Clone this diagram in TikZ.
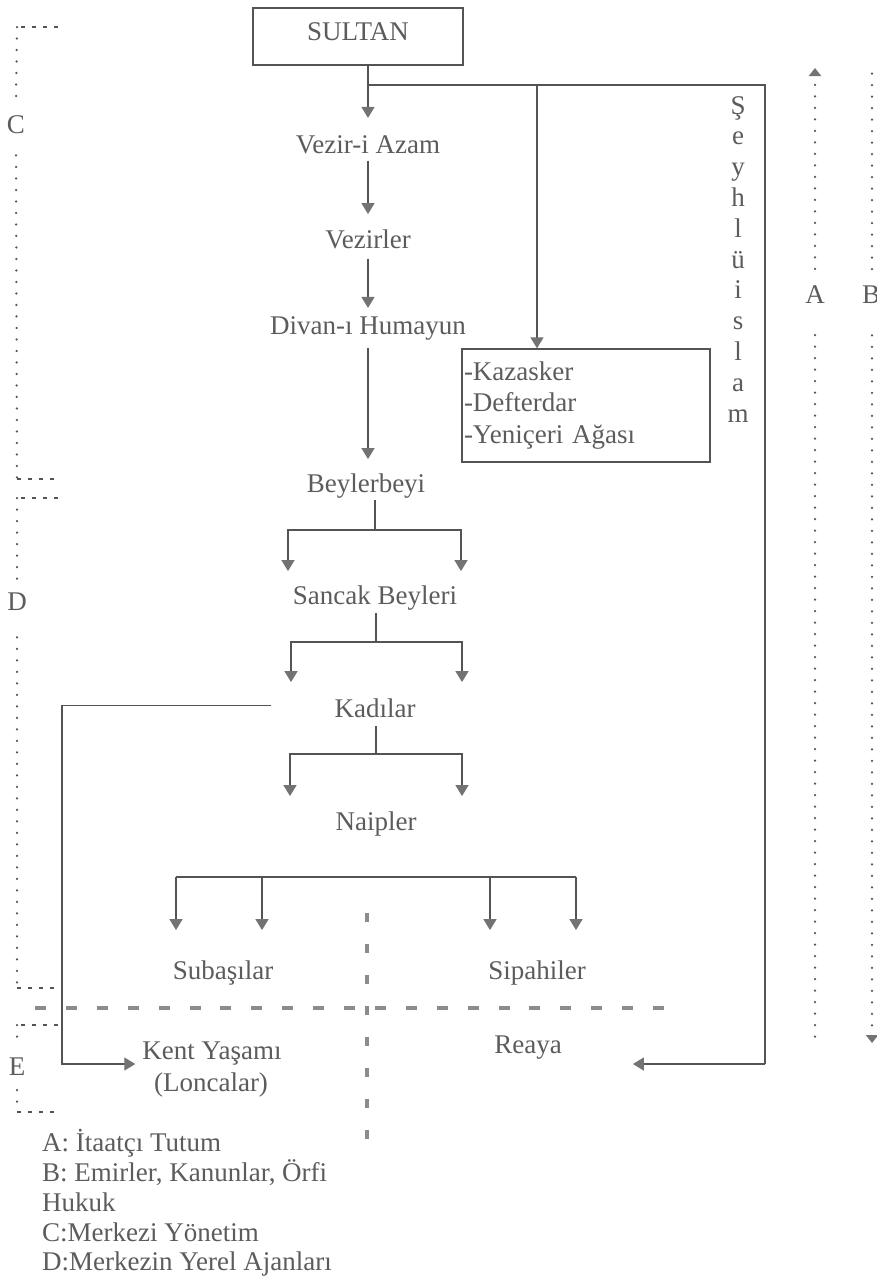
\documentclass[tikz,border=0pt]{standalone}
\usepackage{fontspec}
\setmainfont{Liberation Serif}
\usetikzlibrary{arrows.meta}
\definecolor{txt}{gray}{0.36}
\definecolor{ln}{gray}{0.33}
\definecolor{tipc}{gray}{0.45}
\definecolor{dsh}{gray}{0.55}
\newcommand{\chartfont}{\fontsize{27}{31.5}\selectfont}

\begin{document}
\begin{tikzpicture}[x=1pt,y=-1pt,
  lbl/.style={font=\chartfont, text=txt, inner sep=0pt, anchor=base},
  link/.style={draw=ln, line width=1.4pt},
  arr/.style={link, -{Triangle[width=13pt,length=11pt,color=tipc]}},
  boxed/.style={draw=ln, line width=1.3pt, font=\chartfont, text=txt},
  dotv/.style={draw=ln, line width=2.5pt, line cap=round, dash pattern=on 0pt off 11.5pt},
  doth/.style={draw=ln, line width=1.6pt, dash pattern=on 4pt off 7pt},
  split/.style={draw=dsh, line width=4pt},
  dottip/.style={-{Triangle[width=12pt,length=8pt,color=tipc]}},
]
\useasboundingbox (0,0) rectangle (876,1277);
\fill[white] (0,0) rectangle (876,1277);

% ---- hierarchy nodes ----
\node[boxed, minimum width=210pt, minimum height=57pt, inner sep=0pt, text depth=10pt] (sultan) at (358,36.5) {SULTAN};
\node[lbl] (vezir) at (368,153) {Vezir-i Azam};
\node[lbl] (vezirler) at (368,248) {Vezirler};
\node[lbl] (divan) at (368,334) {Divan-ı Humayun};
\node[boxed, text width=244pt, inner xsep=2pt, inner ysep=0pt, minimum height=113pt, align=left] (kaz) at (586,405.5) {-Kazasker\\-Defterdar\\-Yeniçeri Ağası};
\node[lbl] (beyler) at (366,492) {Beylerbeyi};
\node[lbl] (sancak) at (375,604) {Sancak Beyleri};
\node[lbl] (kadilar) at (375,717) {Kadılar};
\node[lbl] (naipler) at (376,830) {Naipler};
\node[lbl] (subasi) at (223,979) {Subaşılar};
\node[lbl] (sipahi) at (537,979) {Sipahiler};
\node[lbl] (kent) at (212,1059) {Kent Yaşamı};
\node[lbl] (lonca) at (211,1091) {(Loncalar)};
\node[lbl] (reaya) at (528,1053) {Reaya};

% vertical caption beside the right-hand line
\foreach \ch [count=\i from 0] in {Ş,e,y,h,l,ü,i,s,l,a,m}
  \node[lbl] (sh\i) at (738,114+30.8*\i) {\ch};

% ---- connectors ----
\coordinate (topbar) at (368,85);
\coordinate (kazdrop) at (537,85);
\coordinate (rtop) at (765,85);
\coordinate (rbot) at (765,1064);
\draw[arr, shorten >=17pt] (sultan.south -| vezir.north) -- (vezir.north);
\draw[link] (topbar) -- (rtop) -- (rbot);
\draw[arr] (kazdrop) -- (kazdrop |- kaz.north);
\draw[arr, shorten >=71pt] (rbot) -- (rbot -| reaya.east);

\draw[arr, shorten <=7pt, shorten >=15pt] (vezir.south) -- (vezirler.north);
\draw[arr, shorten <=10pt, shorten >=8pt] (vezirler.south) -- (divan.north);
\draw[arr, shorten <=8pt, shorten >=14pt] (divan.south) -- (divan.south |- beyler.north);

\coordinate (bfork) at (375,530);
\draw[link, shorten <=2pt] (beyler.south -| bfork) -- (bfork);
\draw[arr, shorten >=14pt] (bfork) -| ([xshift=-87pt]sancak.north);
\draw[arr, shorten >=14pt] (bfork) -| ([xshift=86pt]sancak.north);

\coordinate (sfork) at (376,642);
\draw[link, shorten <=3pt] (sancak.south -| sfork) -- (sfork);
\draw[arr, shorten >=16pt] (sfork) -| ([xshift=-84pt]kadilar.north);
\draw[arr, shorten >=16pt] (sfork) -| ([xshift=87pt]kadilar.north);

\coordinate (kfork) at (376,754);
\draw[link, shorten <=9pt] (kadilar.south -| kfork) -- (kfork);
\draw[arr, shorten >=15pt] (kfork) -| ([xshift=-86pt]naipler.north);
\draw[arr, shorten >=15pt] (kfork) -| ([xshift=86pt]naipler.north);

\coordinate (kcorner) at (62,1064);
\draw[arr, shorten >=7pt] ([xshift=-63pt,yshift=2pt]kadilar.west) -| (kcorner) -- (kcorner -| kent.west);

\coordinate (n1) at (176,877);
\coordinate (n2) at (262,877);
\coordinate (n3) at (490,877);
\coordinate (n4) at (576,877);
\draw[link] (n1) -- (n4);
\draw[arr, shorten >=30pt] (n1) -- (n1 |- subasi.north);
\draw[arr, shorten >=30pt] (n2) -- (n2 |- subasi.north);
\draw[arr, shorten >=30pt] (n3) -- (n3 |- sipahi.north);
\draw[arr, shorten >=30pt] (n4) -- (n4 |- sipahi.north);

% ---- dividing dashed cross ----
\draw[split, dash pattern=on 11pt off 19.9pt] (35,1008) -- (665,1008);
\draw[split, dash pattern=on 9pt off 22pt] (367,913) -- (367,1139);

% ---- left brackets C, D, E ----
\node[lbl] (clab) at (16,133) {C};
\node[lbl] (dlab) at (17,610) {D};
\node[lbl] (elab) at (17,1075) {E};
\coordinate (c1) at (17,27);   \coordinate (c2) at (17,479);
\coordinate (d1) at (17,498);  \coordinate (d2) at (17,988);
\coordinate (e1) at (17,1025); \coordinate (e2) at (17,1112);
\draw[doth] ([xshift=41pt]c1) -- (c1);
\draw[dotv] (c1) -- ([yshift=17pt]clab.north);
\draw[dotv] ([yshift=-22pt]clab.south) -- (c2);
\draw[doth] (c2) -- ([xshift=41pt]c2);
\draw[doth] ([xshift=41pt]d1) -- (d1);
\draw[dotv] (d1) -- ([yshift=13pt]dlab.north);
\draw[dotv] ([yshift=-27pt]dlab.south) -- (d2);
\draw[doth] (d2) -- ([xshift=41pt]d2);
\draw[doth] ([xshift=41pt]e1) -- (e1);
\draw[dotv] (e1) -- ([yshift=13pt]elab.north);
\draw[dotv] ([yshift=-15pt]elab.south) -- (e2);
\draw[doth] (e2) -- ([xshift=41pt]e2);

% ---- right dotted lines A, B ----
\node[lbl] (alab) at (815,303) {A};
\node[lbl] (blab) at (871,303) {B};
\coordinate (atop) at (815,68);
\coordinate (abot) at (815,1038);
\coordinate (btop) at (872,72);
\coordinate (bbot) at (872,1043);
\draw[dotv, dottip] ([yshift=16pt]alab.north) -- (atop);
\draw[dotv] ([yshift=-32pt]alab.south) -- (abot);
\draw[dotv] ([yshift=16pt]blab.north -| btop) -- (btop);
\draw[dotv, dottip] ([yshift=-32pt]blab.south -| bbot) -- (bbot);

% ---- legend ----
\node[lbl, anchor=base west] (leg1) at (42,1151) {A: İtaatçı Tutum};
\node[lbl, anchor=base west] (leg2) at (42,1181) {B: Emirler, Kanunlar, Örfi};
\node[lbl, anchor=base west] (leg3) at (42,1211) {Hukuk};
\node[lbl, anchor=base west] (leg4) at (42,1241) {C:Merkezi Yönetim};
\node[lbl, anchor=base west] (leg5) at (42,1270) {D:Merkezin Yerel Ajanları};
\end{tikzpicture}
\end{document}
